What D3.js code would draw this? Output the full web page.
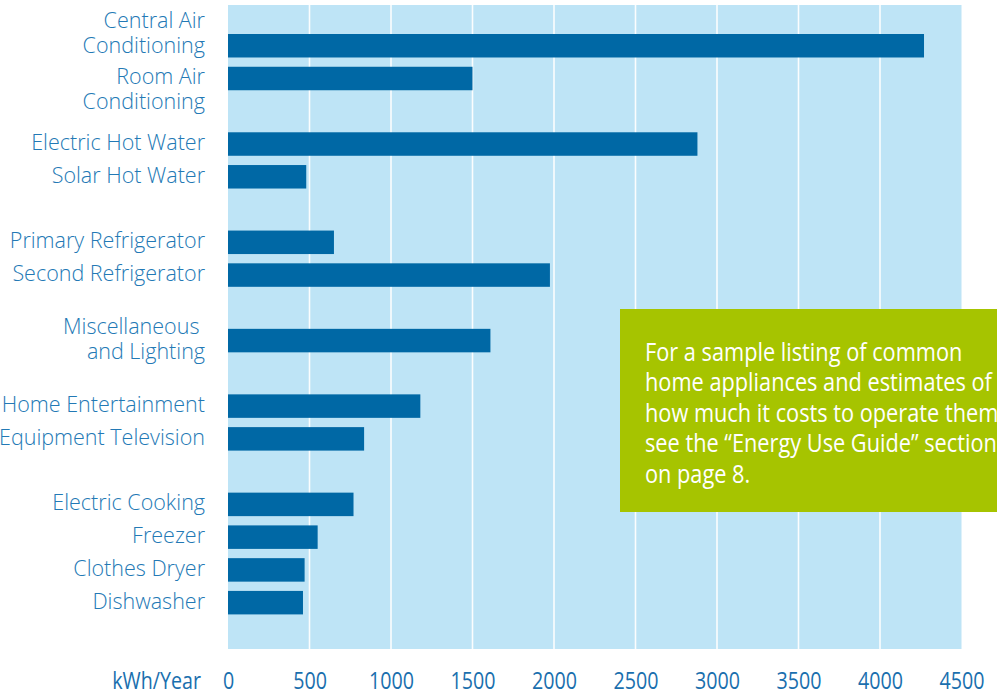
<!DOCTYPE html>
<html>
<head>
<meta charset="utf-8">
<script src="https://cdn.jsdelivr.net/npm/d3@7"></script>
<style>
  html, body { margin: 0; padding: 0; background: #ffffff; }
  svg { display: block; }
  text { font-family: "Open Sans", "Noto Sans", sans-serif; }
</style>
</head>
<body>
<svg id="chart" width="997" height="694"></svg>
<script>
// ---- data ----
const categories = [
  "Central Air\nConditioning",
  "Room Air\nConditioning",
  "Electric Hot Water",
  "Solar Hot Water",
  "Primary Refrigerator",
  "Second Refrigerator",
  "Miscellaneous\u00a0\nand Lighting",
  "Home Entertainment",
  "Equipment Television",
  "Electric Cooking",
  "Freezer",
  "Clothes Dryer",
  "Dishwasher"
];
const values = [4270, 1500, 2880, 480, 650, 1975, 1610, 1180, 835, 770, 550, 470, 460];
const groups = [1, 1, 2, 2, 3, 3, 4, 5, 5, 6, 6, 6, 6];
const labelAnchor = ["last", "first", "mid", "mid", "mid", "mid", "mid", "mid", "mid", "mid", "mid", "mid", "mid"];
const tickValues = [0, 500, 1000, 1500, 2000, 2500, 3000, 3500, 4000, 4500];
const axisTitle = "kWh/Year";
const boxLines = [
  "For a sample listing of common",
  "home appliances and estimates of",
  "how much it costs to operate them,",
  "see the \u201cEnergy Use Guide\u201d section",
  "on page 8."
];

// ---- layout ----
const W = 997, H = 694;
const plot = { left: 228, right: 961.5, top: 5, bottom: 649 };
const svg = d3.select("#chart");

// build slot domain with a gap slot between groups
const slots = [];
categories.forEach((c, i) => {
  if (i > 0 && groups[i] !== groups[i - 1]) slots.push("gap-" + i);
  slots.push(c);
});

const x = d3.scaleLinear().domain([0, 4500]).range([plot.left, plot.right]);
const step = 32.76, pad = 0.283;
const y = d3.scaleBand()
  .domain(slots)
  .range([34 - step * pad / 2, 34 - step * pad / 2 + step * slots.length])
  .paddingInner(pad)
  .paddingOuter(pad / 2);

// background
svg.append("rect")
  .attr("x", x(0)).attr("y", plot.top)
  .attr("width", x(4500) - x(0)).attr("height", plot.bottom - plot.top)
  .attr("fill", "#bee4f6");

// gridlines
svg.append("g").selectAll("line")
  .data(tickValues.filter(v => v > 0 && v < 4500))
  .join("line")
  .attr("x1", d => x(d)).attr("x2", d => x(d))
  .attr("y1", plot.top).attr("y2", plot.bottom)
  .attr("stroke", "#ffffff").attr("stroke-width", 1.6).attr("opacity", 0.95);

// bars
const data = categories.map((c, i) => ({ cat: c, value: values[i], anchor: labelAnchor[i] }));
svg.append("g").selectAll("rect")
  .data(data)
  .join("rect")
  .attr("x", x(0))
  .attr("y", d => y(d.cat))
  .attr("width", d => x(d.value) - x(0))
  .attr("height", y.bandwidth())
  .attr("fill", "#0068a5");

// category labels
const lineH = 25;
const labelG = svg.append("g")
  .attr("font-size", 21.5)
  .attr("font-weight", 300)
  .attr("fill", "#2379b5")
  .attr("text-anchor", "end");
data.forEach(d => {
  const lines = d.cat.split("\n");
  const c = y(d.cat) + y.bandwidth() / 2 + 7;
  let first;
  if (d.anchor === "last") first = c - (lines.length - 1) * lineH;
  else if (d.anchor === "first") first = c - 1.5;
  else first = c - 1 - (lines.length - 1) * lineH / 2;
  const t = labelG.append("text").attr("x", 205).attr("y", first);
  lines.forEach((ln, k) => {
    t.append("tspan").attr("x", 205).attr("y", first + k * lineH).text(ln);
  });
});

// x axis (tick labels)
const axis = d3.axisBottom(x).tickValues(tickValues).tickSize(0).tickFormat(d => d);
const axG = svg.append("g").attr("transform", "translate(0,671)").call(axis);
axG.select(".domain").remove();
axG.selectAll("text")
  .attr("y", 18).attr("dy", null)
  .attr("font-size", 24)
  .attr("font-family", "'Open Sans', sans-serif")
  .attr("fill", "#1a6fae")
  .attr("transform", "scale(0.82,1)");

svg.append("text")
  .attr("transform", "translate(201,689) scale(0.82,1)")
  .attr("text-anchor", "end")
  .attr("font-size", 24)
  .attr("fill", "#1a6fae")
  .text(axisTitle);

// green note box
svg.append("rect")
  .attr("x", 620).attr("y", 309)
  .attr("width", W - 620 + 5).attr("height", 203)
  .attr("fill", "#a6c400");
const boxG = svg.append("g").attr("transform", "translate(645,361) scale(0.87,1)");
boxG.selectAll("text")
  .data(boxLines)
  .join("text")
  .attr("x", 0)
  .attr("y", (d, i) => i * 30.4)
  .attr("font-size", 25)
  .attr("fill", "#ffffff")
  .text(d => d);
</script>
</body>
</html>
